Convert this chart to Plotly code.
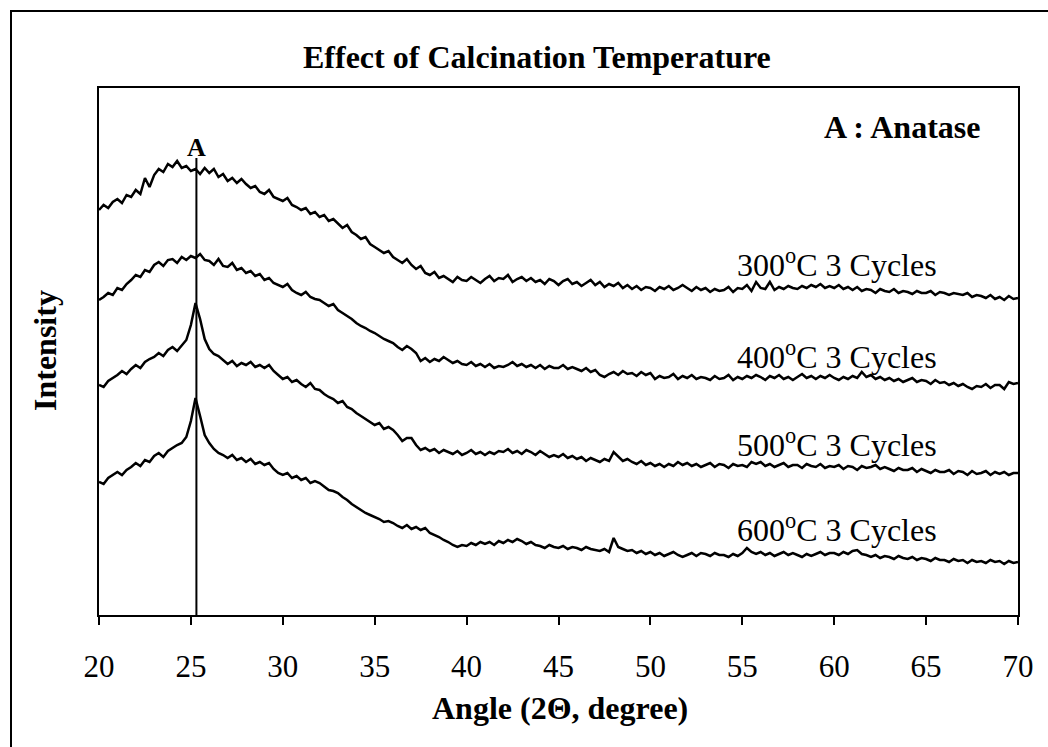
import plotly.graph_objects as go

# Sampling grid of diffraction angle (2-theta, degree), 0.25 deg step
angle_start, angle_step, n_points = 20.0, 0.25, 201
angles = [angle_start + angle_step * i for i in range(n_points)]

# Intensities (arbitrary, offset stacked)
i_300 = [405, 410, 407, 413, 416, 412, 420, 418, 425, 421, 437, 428, 440, 446, 443, 451,
         448, 454, 447, 449, 444, 446, 441, 447, 442, 446, 438, 441, 434, 437, 432, 436,
         431, 427, 429, 423, 421, 425, 418, 416, 414, 417, 410, 408, 405, 407, 401, 403,
         398, 400, 394, 396, 391, 387, 390, 383, 380, 376, 378, 371, 368, 365, 362, 364,
         358, 355, 352, 356, 350, 346, 349, 342, 340, 343, 337, 339, 336, 333, 338, 335,
         334, 338, 335, 332, 336, 339, 334, 337, 336, 340, 333, 336, 338, 334, 337, 333,
         335, 331, 336, 334, 330, 334, 336, 331, 333, 329, 332, 335, 330, 333, 328, 331,
         329, 332, 327, 330, 326, 329, 325, 328, 327, 324, 328, 326, 329, 325, 327, 330,
         327, 324, 328, 325, 327, 323, 326, 324, 325, 328, 323, 327, 326, 330, 324, 333,
         327, 326, 333, 325, 328, 326, 329, 327, 326, 329, 327, 330, 328, 331, 327, 329,
         327, 330, 326, 328, 325, 328, 324, 326, 325, 322, 326, 324, 323, 326, 322, 324,
         323, 321, 324, 322, 322, 324, 320, 323, 322, 320, 322, 321, 320, 322, 318, 320,
         319, 317, 320, 316, 318, 315, 319, 316, 317]

i_400 = [315, 318, 322, 320, 327, 325, 331, 335, 340, 338, 345, 343, 350, 353, 349, 355,
         356, 352, 358, 355, 359, 357, 361, 355, 354, 350, 356, 349, 348, 352, 345, 347,
         342, 344, 339, 341, 335, 337, 332, 330, 328, 331, 325, 322, 320, 323, 318, 316,
         315, 312, 309, 311, 305, 302, 299, 296, 292, 289, 287, 284, 282, 279, 276, 274,
         272, 268, 265, 269, 266, 262, 254, 257, 253, 256, 254, 258, 255, 252, 254, 251,
         250, 253, 249, 251, 248, 251, 247, 249, 248, 250, 253, 249, 251, 248, 250, 247,
         250, 246, 249, 247, 247, 250, 246, 248, 246, 244, 247, 243, 245, 240, 238, 241,
         243, 240, 244, 241, 242, 239, 243, 240, 242, 236, 239, 237, 238, 241, 236, 239,
         237, 240, 236, 238, 237, 235, 239, 236, 237, 240, 235, 238, 236, 239, 237, 240,
         238, 235, 239, 237, 240, 236, 238, 235, 238, 241, 237, 239, 236, 239, 237, 240,
         237, 235, 238, 236, 239, 237, 243, 238, 240, 236, 238, 235, 237, 234, 236, 233,
         235, 237, 233, 235, 234, 231, 235, 232, 233, 230, 232, 229, 231, 228, 226, 229,
         228, 231, 227, 230, 230, 226, 233, 231, 232]

i_500 = [230, 228, 234, 237, 240, 244, 241, 246, 250, 247, 253, 256, 258, 262, 259, 265,
         268, 264, 270, 275, 290, 312, 296, 276, 266, 261, 259, 255, 251, 254, 249, 252,
         250, 253, 248, 250, 247, 250, 244, 240, 236, 238, 233, 235, 231, 228, 232, 226,
         225, 221, 218, 216, 212, 214, 208, 206, 202, 199, 196, 193, 190, 192, 186, 188,
         185, 180, 174, 177, 177, 170, 165, 167, 164, 166, 162, 165, 163, 161, 164, 160,
         162, 165, 161, 163, 160, 163, 161, 164, 163, 166, 162, 164, 161, 165, 163, 160,
         164, 161, 158, 160, 158, 161, 157, 159, 156, 158, 154, 157, 155, 153, 156, 154,
         163, 158, 154, 156, 153, 151, 154, 150, 152, 149, 151, 148, 151, 149, 153, 150,
         152, 149, 151, 148, 150, 152, 148, 151, 150, 147, 151, 149, 150, 148, 153, 151,
         153, 149, 151, 148, 150, 152, 148, 150, 150, 147, 151, 149, 148, 151, 147, 149,
         148, 150, 146, 149, 148, 145, 149, 147, 148, 150, 146, 148, 146, 144, 147, 145,
         145, 147, 143, 146, 144, 142, 145, 143, 143, 145, 141, 144, 143, 140, 144, 141,
         142, 144, 140, 143, 141, 143, 140, 142, 142]

i_600 = [133, 131, 137, 140, 143, 140, 145, 148, 152, 149, 155, 153, 159, 162, 158, 164,
         167, 170, 172, 178, 194, 217, 199, 180, 172, 166, 162, 160, 157, 160, 155, 157,
         153, 156, 151, 153, 150, 152, 146, 142, 140, 142, 137, 139, 135, 137, 132, 134,
         132, 128, 125, 124, 122, 118, 115, 111, 108, 105, 102, 100, 98, 96, 93, 94,
         92, 89, 87, 90, 86, 88, 85, 87, 82, 80, 78, 75, 73, 70, 68, 70,
         69, 72, 70, 73, 71, 73, 70, 74, 72, 75, 73, 76, 74, 71, 73, 70,
         69, 67, 70, 68, 67, 69, 66, 68, 67, 65, 68, 66, 65, 64, 66, 63,
         77, 68, 66, 64, 65, 62, 64, 61, 63, 60, 62, 59, 61, 63, 60, 58,
         60, 62, 59, 62, 61, 59, 62, 60, 60, 58, 61, 59, 62, 67, 63, 61,
         63, 60, 62, 59, 61, 63, 60, 62, 60, 58, 61, 59, 61, 63, 60, 62,
         62, 60, 63, 61, 64, 65, 61, 60, 58, 60, 57, 59, 58, 56, 59, 57,
         56, 58, 55, 57, 56, 54, 57, 55, 55, 53, 56, 54, 55, 52, 55, 53,
         54, 52, 55, 53, 54, 51, 54, 52, 53]

series_labels = ["300<sup>o</sup>C 3 Cycles", "400<sup>o</sup>C 3 Cycles",
                 "500<sup>o</sup>C 3 Cycles", "600<sup>o</sup>C 3 Cycles"]
series_values = [i_300, i_400, i_500, i_600]
label_y = [352, 260, 172, 87]
label_x = 54.6

tick_vals = [20, 25, 30, 35, 40, 45, 50, 55, 60, 65, 70]
anatase_angle = 25.3

# ---- layout geometry (pixels) ----
W, H = 1048, 747
L, R, T, B = 99, 30, 88, 132
PW, PH = W - L - R, H - T - B
def px_x(px):
    return (px - L) / PW
def px_y(py):
    return (H - B - py) / PH

FONT = "Liberation Serif"

fig = go.Figure()
for vals in series_values:
    fig.add_trace(go.Scatter(x=angles, y=vals, mode="lines",
                             line=dict(color="black", width=2.5),
                             showlegend=False, hoverinfo="skip"))

annotations = []
for txt, yy in zip(series_labels, label_y):
    annotations.append(dict(x=label_x, y=yy, xref="x", yref="y", text=txt,
                            showarrow=False, xanchor="left", yanchor="middle",
                            font=dict(family=FONT, size=32, color="black")))
annotations.append(dict(x=63.7, y=488, xref="x", yref="y", text="<b>A : Anatase</b>",
                        showarrow=False, xanchor="center", yanchor="middle",
                        font=dict(family=FONT, size=32, color="black")))
annotations.append(dict(x=anatase_angle, y=468, xref="x", yref="y", text="<b>A</b>",
                        showarrow=False, xanchor="center", yanchor="middle",
                        font=dict(family=FONT, size=26, color="black")))
annotations.append(dict(x=px_x(537), y=px_y(57), xref="paper", yref="paper",
                        text="<b>Effect of Calcination Temperature</b>",
                        showarrow=False, xanchor="center", yanchor="middle",
                        font=dict(family=FONT, size=32, color="black")))
annotations.append(dict(x=px_x(560), y=px_y(708), xref="paper", yref="paper",
                        text="<b>Angle (2Θ, degree)</b>",
                        showarrow=False, xanchor="center", yanchor="middle",
                        font=dict(family=FONT, size=32, color="black")))
annotations.append(dict(x=px_x(45), y=px_y(351), xref="paper", yref="paper",
                        text="<b>Intensity</b>", textangle=-90,
                        showarrow=False, xanchor="center", yanchor="middle",
                        font=dict(family=FONT, size=32, color="black")))

shapes = [
    dict(type="line", xref="x", yref="y", x0=anatase_angle, x1=anatase_angle,
         y0=0, y1=457, line=dict(color="black", width=2)),
    dict(type="rect", xref="paper", yref="paper",
         x0=px_x(11), x1=px_x(1070), y0=px_y(11), y1=px_y(770),
         line=dict(color="black", width=2)),
]

fig.update_layout(
    width=W, height=H,
    margin=dict(l=L, r=R, t=T, b=B, pad=0),
    paper_bgcolor="white", plot_bgcolor="white",
    annotations=annotations, shapes=shapes,
    xaxis=dict(range=[20, 70], tickvals=tick_vals, ticks="outside", ticklen=8,
               tickwidth=1.5, tickcolor="black", showline=True, linecolor="black",
               linewidth=2, mirror=True, showgrid=False, zeroline=False,
               ticklabelstandoff=15,
               tickfont=dict(family=FONT, size=31, color="black")),
    yaxis=dict(range=[0, PH], showticklabels=False, ticks="", showline=True,
               linecolor="black", linewidth=2, mirror=True, showgrid=False,
               zeroline=False),
)

fig.write_html("out.html")
